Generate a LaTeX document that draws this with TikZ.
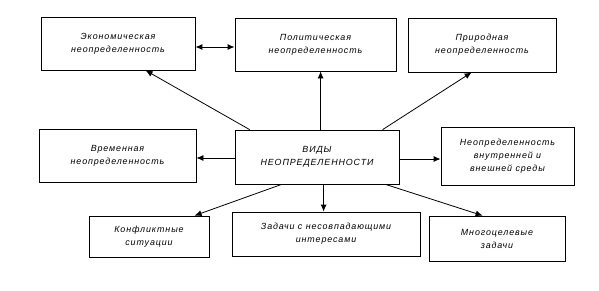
\documentclass[tikz,border=0pt]{standalone}
\usepackage{fontspec}
\setmainfont{Liberation Sans}
\newfontfamily\boxfont{Liberation Sans}[LetterSpace=10]
\usetikzlibrary{arrows.meta,calc}
\begin{document}
\begin{tikzpicture}[x=1pt,y=-1pt,
  box/.style={draw,line width=0.8pt,inner sep=0pt,align=center,
    font=\boxfont\itshape\fontsize{8.9}{13}\selectfont},
  conn/.style={line width=0.8pt,-{Latex[length=7pt,width=6pt]}},
  dconn/.style={line width=1pt,{Latex[length=7pt,width=6pt]}-{Latex[length=7pt,width=6pt]}}]
\useasboundingbox (0,0) rectangle (599,290);
\node[box,minimum width=154pt,minimum height=53pt] (b1) at (118,43.5) {Экономическая\\неопределенность};
\node[box,minimum width=161pt,minimum height=53pt] (b2) at (315.5,44.5) {Политическая\\неопределенность};
\node[box,minimum width=148pt,minimum height=54pt] (b3) at (482,45) {Природная\\неопределенность};
\node[box,minimum width=157pt,minimum height=53pt] (b4) at (117.5,155.5) {Временная\\неопределенность};
\node[box,minimum width=164pt,minimum height=54pt] (c) at (317,157) {ВИДЫ\\НЕОПРЕДЕЛЕННОСТИ};
\node[box,minimum width=133pt,minimum height=58pt] (b5) at (507.5,156) {Неопределенность\\внутренней и\\внешней среды};
\node[box,minimum width=120pt,minimum height=41pt] (b6) at (149,236.5) {Конфликтные\\ситуации};
\node[box,minimum width=188pt,minimum height=44pt] (b7) at (326,234) {Задачи с несовпадающими\\интересами};
\node[box,minimum width=136pt,minimum height=45pt] (b8) at (497,238.5) {Многоцелевые\\задачи};
\draw[dconn] ($(b1.east)+(0,3.5)$) -- ($(b2.west)+(0,2.5)$);
\draw[conn] ($(c.north west)+(15,0)$) -- ($(b1.south west)+(105,0)$);
\draw[conn] ($(c.north west)+(86,0)$) -- ($(b2.south west)+(86,0)$);
\draw[conn] ($(c.north west)+(148,0)$) -- ($(b3.south west)+(64,0)$);
\draw[conn] ($(c.west)+(0,1)$) -- ($(b4.east)+(0,2.5)$);
\draw[conn] ($(c.east)+(0,2)$) -- ($(b5.west)+(0,3)$);
\draw[conn] ($(c.south west)+(47,0)$) -- ($(b6.north west)+(106,0)$);
\draw[conn] ($(c.south west)+(89,0)$) -- ($(b7.north west)+(92,0)$);
\draw[conn] ($(c.south west)+(151,0)$) -- ($(b8.north west)+(54,0)$);
\end{tikzpicture}
\end{document}
